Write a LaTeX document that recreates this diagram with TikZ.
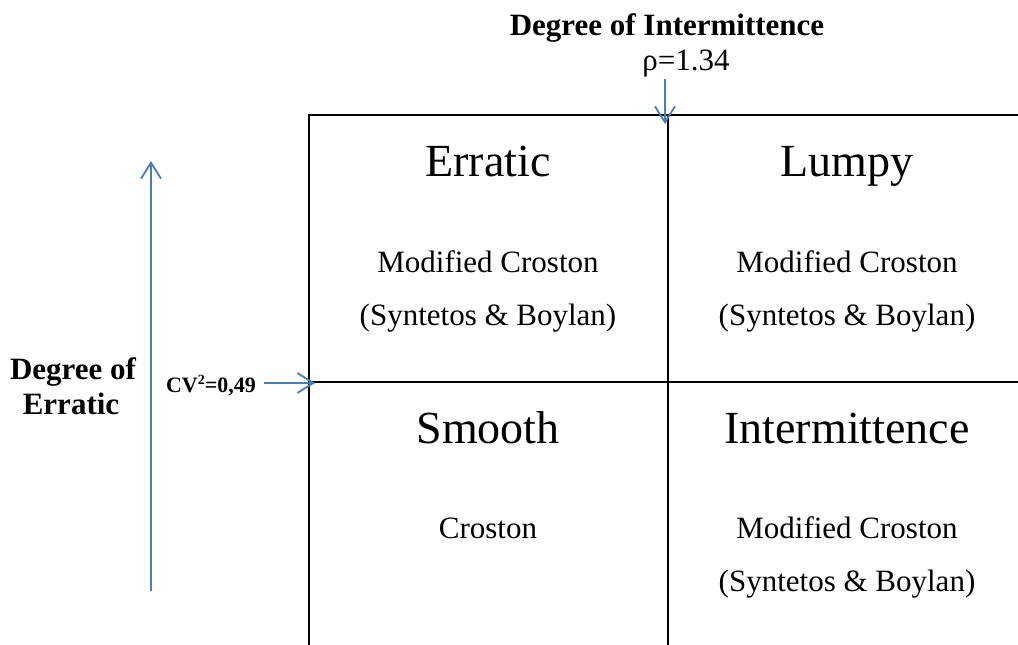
\documentclass[tikz,border=0pt]{standalone}
\usepackage{fontspec}
\setmainfont{Liberation Serif}
\usetikzlibrary{arrows.meta}
\definecolor{arrowblue}{RGB}{74,126,187}

\begin{document}
\begin{tikzpicture}[x=1pt,y=-1pt,
	grid/.style={line width=2.8pt},
	bluearrow/.style={draw=arrowblue,line width=1.8pt,-{Straight Barb[length=16pt,width=20pt]}},
	bigtext/.style={anchor=base,font=\fontsize{46}{50}\selectfont},
	plaintext/.style={anchor=base,font=\fontsize{31}{34}\selectfont},
	headtext/.style={anchor=base,font=\bfseries\fontsize{31}{34}\selectfont}]
	\useasboundingbox (0,0) rectangle (1018,645);
	% quadrants
	\draw[grid] (308,115)--(1018,115);
	\draw[grid] (308,382)--(1018,382);
	\draw[grid] (309,114)--(309,645);
	\draw[grid] (668,114)--(668,645);
	% axes
	\node[headtext] (intdeg) at (667,35) {Degree of Intermittence};
	\node[plaintext] (rho) at (686,70) {ρ=1.34};
	\node[headtext] (errdeg1) at (73,379) {Degree of};
	\node[headtext] (errdeg2) at (71,414) {Erratic};
	\node[anchor=base,font=\bfseries\fontsize{22}{24}\selectfont] (cv) at (211,392) {CV\raisebox{0.75ex}{\bfseries\fontsize{14}{16}\selectfont 2}=0,49};
	\coordinate (rhotop) at (665,79);
	\coordinate (rhoend) at (665,124);
	\coordinate (cvstart) at (264,383);
	\coordinate (cvend) at (315,383);
	\coordinate (errbot) at (151,591);
	\coordinate (errtop) at (151,161);
	\draw[bluearrow] (rhotop)--(rhoend);
	\draw[bluearrow] (cvstart)--(cvend);
	\draw[bluearrow] (errbot)--(errtop);
	% top row
	\node[bigtext] (erratic) at (488,176) {Erratic};
	\node[plaintext] (erraticA) at (488,272) {Modified Croston};
	\node[plaintext] (erraticB) at (488,325) {(Syntetos \& Boylan)};
	\node[bigtext] (lumpy) at (847,176) {Lumpy};
	\node[plaintext] (lumpyA) at (847,272) {Modified Croston};
	\node[plaintext] (lumpyB) at (847,325) {(Syntetos \& Boylan)};
	% bottom row
	\node[bigtext] (smooth) at (488,443) {Smooth};
	\node[plaintext] (smoothA) at (488,538) {Croston};
	\node[bigtext] (intermit) at (847,443) {Intermittence};
	\node[plaintext] (intermitA) at (847,538) {Modified Croston};
	\node[plaintext] (intermitB) at (847,591) {(Syntetos \& Boylan)};
\end{tikzpicture}
\end{document}
